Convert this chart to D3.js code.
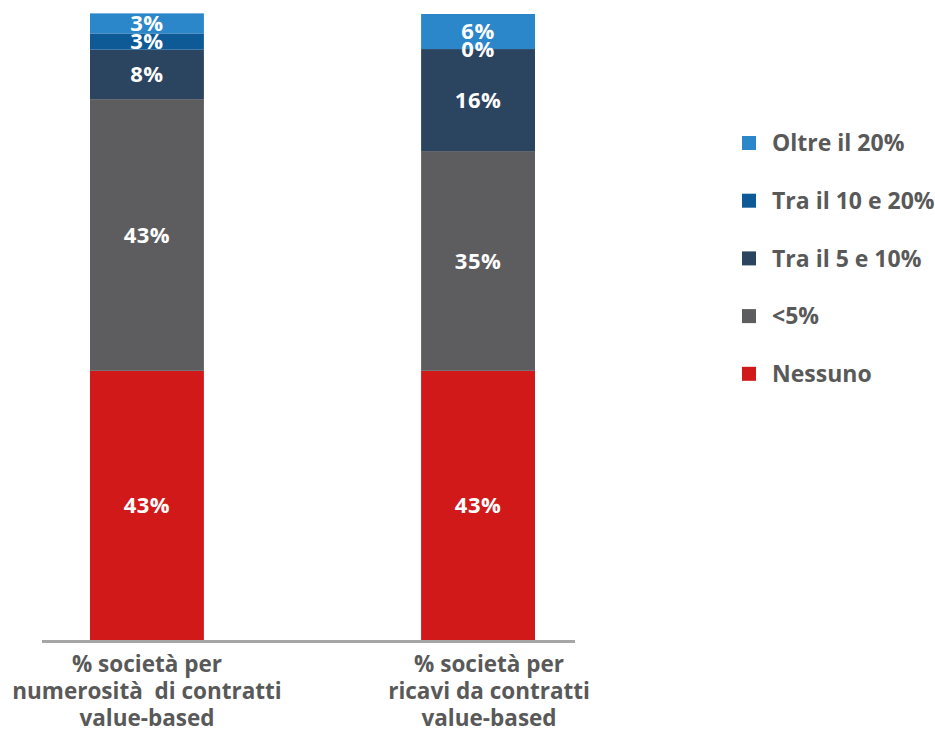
<!DOCTYPE html>
<html><head><meta charset="utf-8">
<script src="https://cdn.jsdelivr.net/npm/d3@7"></script>
<style>body{margin:0;background:#fff}svg{display:block}text{font-family:"Open Sans",sans-serif;font-weight:700}</style>
</head><body>
<script>
const categories = ["cat1", "cat2"];
const categoryLabels = [
  ["% società per", "numerosità  di contratti", "value-based"],
  ["% società per", "ricavi da contratti", "value-based"]
];
const seriesNames = ["Nessuno", "<5%", "Tra il 5 e 10%", "Tra il 10 e 20%", "Oltre il 20%"];
const seriesColors = ["#d1191a", "#5d5d5f", "#2b4460", "#0d5a97", "#2b87c9"];
const nessuno = [43.0, 43.0];
const meno5 = [43.4, 35.1];
const tra5e10 = [7.9, 16.3];
const tra10e20 = [2.6, 0];
const oltre20 = [3.2, 5.6];
const seriesValues = [nessuno, meno5, tra5e10, tra10e20, oltre20];

const W = 935, H = 733;
const svg = d3.select("body").append("svg").attr("width", W).attr("height", H);

const x = d3.scaleBand().domain(categories).range([90, 535]).paddingInner(0.656).paddingOuter(0);
const y = d3.scaleLinear().domain([0, 100]).range([640, 14]);

const rows = categories.map((c, i) => {
  const r = {cat: c};
  seriesNames.forEach((s, j) => r[s] = seriesValues[j][i]);
  return r;
});
const stacked = d3.stack().keys(seriesNames)(rows);
const fmt = v => d3.format(".0f")(v) + "%";

stacked.forEach((layer, j) => {
  svg.append("g").selectAll("rect").data(layer).join("rect")
    .attr("x", d => x(d.data.cat))
    .attr("width", x.bandwidth())
    .attr("y", d => y(d[1]))
    .attr("height", d => y(d[0]) - y(d[1]))
    .attr("fill", seriesColors[j]);
});
stacked.forEach((layer, j) => {
  svg.append("g").selectAll("text").data(layer).join("text")
    .attr("x", d => x(d.data.cat) + x.bandwidth() / 2)
    .attr("y", d => (y(d[0]) + y(d[1])) / 2)
    .attr("dy", "0.36em")
    .attr("text-anchor", "middle")
    .attr("fill", "#fff")
    .attr("font-size", 22)
    .attr("letter-spacing", 0.5)
    .text(d => fmt(d[1] - d[0]));
});

// axis baseline
svg.append("line").attr("x1", 42).attr("x2", 575).attr("y1", 641.5).attr("y2", 641.5)
  .attr("stroke", "#a6a6a6").attr("stroke-width", 3);

// category labels
const labelShift = [0, 11];
categories.forEach((c, i) => {
  const t = svg.append("text")
    .attr("text-anchor", "middle")
    .attr("fill", "#595959")
    .attr("font-size", 22.5)
    .attr("xml:space", "preserve")
    .style("white-space", "pre");
  const cx = x(c) + x.bandwidth() / 2 + labelShift[i];
  categoryLabels[i].forEach((line, k) => {
    t.append("tspan").attr("x", cx).attr("y", 672 + k * 27).text(line);
  });
});

// legend
const legendOrder = [4, 3, 2, 1, 0];
legendOrder.forEach((j, k) => {
  const ly = 143 + k * 57.7;
  svg.append("rect").attr("x", 742).attr("y", ly - 7).attr("width", 14).attr("height", 14).attr("fill", seriesColors[j]);
  svg.append("text").attr("x", 772).attr("y", ly).attr("dy", "0.36em")
    .attr("fill", "#595959").attr("font-size", 23).text(seriesNames[j]);
});
</script>
</body></html>
